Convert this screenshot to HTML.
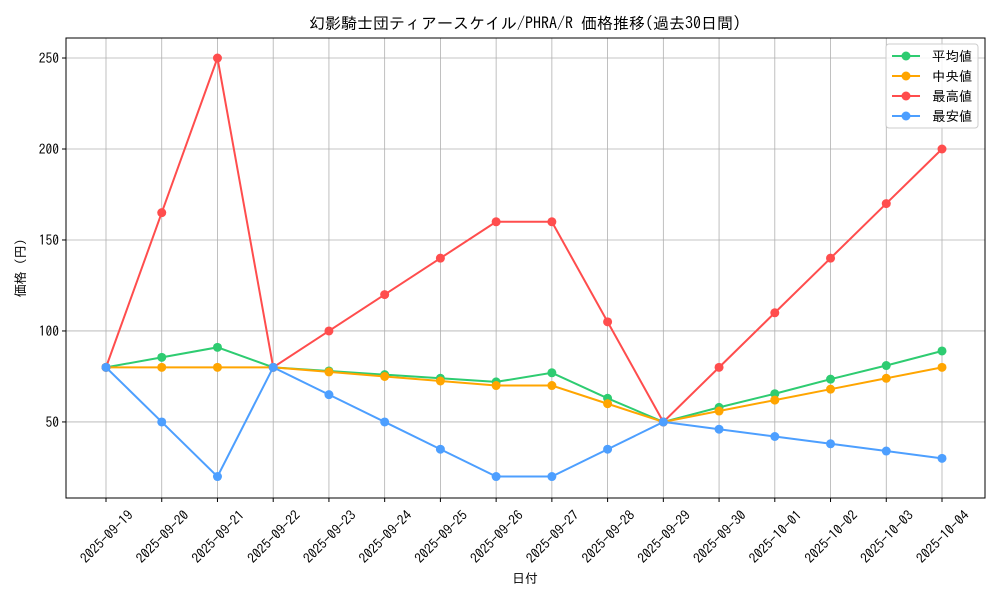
<!DOCTYPE html>
<html><head><meta charset="utf-8"><style>
body{margin:0;background:#fff;}
svg text{font-family:"IPAGothic","Noto Sans CJK JP",sans-serif;fill:#000;}
</style></head><body>
<svg id="c" width="1000" height="600" xmlns="http://www.w3.org/2000/svg"></svg>
<script>
const dates=["2025-09-19","2025-09-20","2025-09-21","2025-09-22","2025-09-23","2025-09-24","2025-09-25","2025-09-26","2025-09-27","2025-09-28","2025-09-29","2025-09-30","2025-10-01","2025-10-02","2025-10-03","2025-10-04"];
const avgVals=[80,85.5,91,80,78,76,74,72,77,63,50,58,65.5,73.5,81,89];
const medVals=[80,80,80,80,77.5,75,72.5,70,70,60,50,56,62,68,74,80];
const maxVals=[80,165,250,80,100,120,140,160,160,105,50,80,110,140,170,200];
const minVals=[80,50,20,80,65,50,35,20,20,35,50,46,42,38,34,30];
const yTicks=[50,100,150,200,250];
const seriesNames=["平均値","中央値","最高値","最安値"];
const seriesColors=["#2ecc71","#ffa500","#ff4d4d","#4d9fff"];
const L=66,R=985,T=38,B=498;
const x=i=>106+i*(942-106)/(dates.length-1);
const y=v=>B-(v-8.2)*(B-T)/(261-8.2);
const svg=document.getElementById('c');
const NS="http://www.w3.org/2000/svg";
function mk(tag,attrs,parent){const e=document.createElementNS(NS,tag);for(const k in attrs)e.setAttribute(k,attrs[k]);(parent||svg).appendChild(e);return e;}
dates.forEach((d,i)=>{
 const g=mk('line',{x1:x(i),x2:x(i),y1:T,y2:B,stroke:'#b0b0b0','stroke-width':0.8});
 
 
 mk('line',{x1:x(i),x2:x(i),y1:B,y2:B+4,stroke:'#000'});
 const t=mk('text',{x:0,y:0,'font-size':13.5,'text-anchor':'middle',transform:`translate(${x(i)+4},${B+42}) rotate(-45)`});
 t.textContent=d;
 
 
});
yTicks.forEach(v=>{
 const g=mk('line',{x1:L,x2:R,y1:y(v),y2:y(v),stroke:'#b0b0b0','stroke-width':0.8});
 
 
 mk('line',{x1:L-4,x2:L,y1:y(v),y2:y(v),stroke:'#000'});
 const t=mk('text',{x:L-7,y:y(v)+5,'font-size':13.5,'text-anchor':'end'});
 t.textContent=v;
 
 
});
const frame=mk('rect',{x:L,y:T,width:R-L,height:B-T,fill:'none',stroke:'#000','stroke-width':1});


[avgVals,medVals,maxVals,minVals].forEach((vals,s)=>{
 const g=mk('g',{});
 
 
 const p=mk('polyline',{points:vals.map((v,i)=>x(i)+','+y(v)).join(' '),fill:'none',stroke:seriesColors[s],'stroke-width':2},g);
 
 
 vals.forEach((v,i)=>{
  const c=mk('circle',{cx:x(i),cy:y(v),r:4.5,fill:seriesColors[s]},g);
  
  
 });
});
const title=mk('text',{x:525,y:29,'font-size':16,'text-anchor':'middle'});
title.textContent='幻影騎士団ティアースケイル/PHRA/R 価格推移(過去30日間)';


const xt=mk('text',{x:525,y:583,'font-size':13,'text-anchor':'middle'});
xt.textContent='日付';


const yt=mk('text',{x:0,y:0,'font-size':13,'text-anchor':'middle',transform:'translate(25,268) rotate(-90)'});
yt.textContent='価格 (円)';


const lg=mk('g',{});


mk('rect',{x:886,y:44,width:92,height:84,rx:3,fill:'#fff','fill-opacity':0.85,stroke:'#ccc'},lg);
seriesNames.forEach((n,s)=>{
 const yy=56+s*20;
 const e=mk('g',{},lg);
 
 
 mk('line',{x1:892,x2:920,y1:yy,y2:yy,stroke:seriesColors[s],'stroke-width':2},e);
 mk('circle',{cx:906,cy:yy,r:4.5,fill:seriesColors[s]},e);
 const t=mk('text',{x:932,y:yy+5,'font-size':13.5},e);
 t.textContent=n;
});
</script>
</body></html>
